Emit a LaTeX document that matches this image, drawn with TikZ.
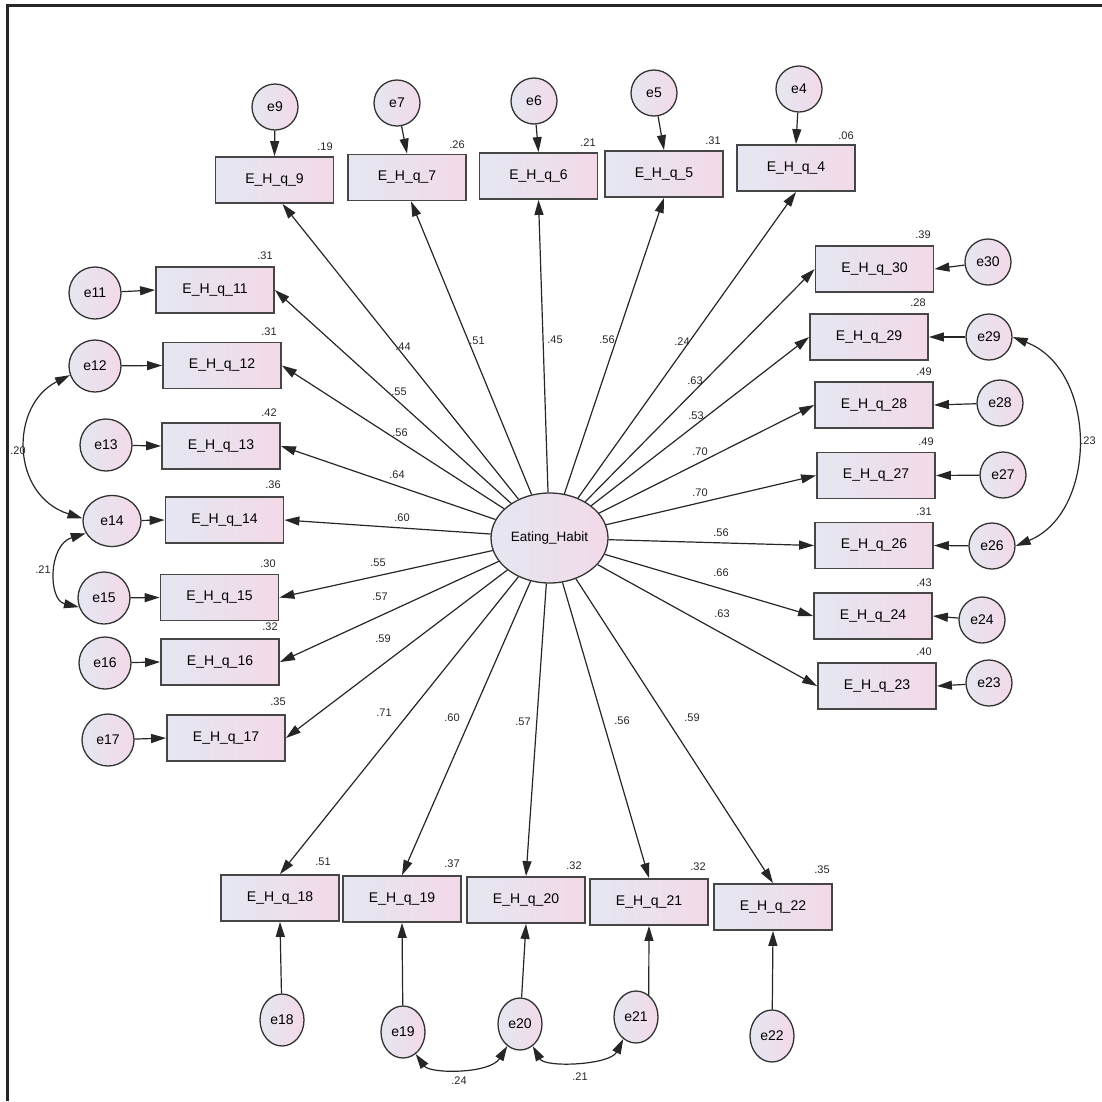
\documentclass[tikz,border=0pt]{standalone}
\usepackage{fontspec}
\setmainfont{Liberation Sans}
\usetikzlibrary{arrows.meta,shapes.geometric}
\definecolor{fillL}{RGB}{228,231,241}
\definecolor{fillR}{RGB}{243,217,232}
\definecolor{edgec}{RGB}{70,70,70}
\begin{document}
\begin{tikzpicture}[x=1pt,y=-1pt,
  obs/.style={rectangle, draw=edgec, line width=1.8pt, left color=fillL, right color=fillR, minimum width=118pt, minimum height=46pt, inner sep=0pt, font=\fontsize{14}{16}\selectfont},
  err/.style={circle, draw=black!80, line width=1.3pt, left color=fillL, right color=fillR, minimum size=46pt, inner sep=0pt, font=\fontsize{14}{16}\selectfont},
  errL/.style={err, minimum size=52pt},
  errB/.style={err, ellipse, minimum width=44pt, minimum height=52pt},
  lat/.style={ellipse, draw=black!80, line width=1.3pt, left color=fillL, right color=fillR, minimum width=117pt, minimum height=90pt, inner sep=0pt, font=\fontsize{13.5}{16}\selectfont},
  rsq/.style={font=\fontsize{11}{13}\selectfont, inner sep=0pt, text=black!85},
  coef/.style={font=\fontsize{11}{13}\selectfont, inner sep=0pt, text=black!85},
  reg/.style={-{Triangle[length=15pt,width=9pt]}, line width=1.2pt, draw=black!85},
  cov/.style={{Triangle[length=15pt,width=9pt]}-{Triangle[length=15pt,width=9pt]}, line width=1.2pt, draw=black!85},
]
\useasboundingbox (0,0) rectangle (1102,1101);
\draw[line width=3pt, black!85] (7,1101) -- (7,5) -- (1102,5);

% latent
\node[lat] (EH) at (549.5,538) {Eating\_Habit};

% top boxes
\node[obs] (b9) at (274.5,180) {E\_H\_q\_9};
\node[obs] (b7) at (407,177.5) {E\_H\_q\_7};
\node[obs] (b6) at (538.5,176) {E\_H\_q\_6};
\node[obs] (b5) at (664,174) {E\_H\_q\_5};
\node[obs] (b4) at (796,168) {E\_H\_q\_4};
% left boxes
\node[obs] (b11) at (215,290) {E\_H\_q\_11};
\node[obs] (b12) at (222,365.5) {E\_H\_q\_12};
\node[obs] (b13) at (221,446) {E\_H\_q\_13};
\node[obs] (b14) at (224.5,520) {E\_H\_q\_14};
\node[obs] (b15) at (219.5,597.5) {E\_H\_q\_15};
\node[obs] (b16) at (220,662) {E\_H\_q\_16};
\node[obs] (b17) at (226,738) {E\_H\_q\_17};
% right boxes
\node[obs] (b30) at (874.5,269) {E\_H\_q\_30};
\node[obs] (b29) at (869,337) {E\_H\_q\_29};
\node[obs] (b28) at (874,405) {E\_H\_q\_28};
\node[obs] (b27) at (876,475.5) {E\_H\_q\_27};
\node[obs] (b26) at (874,545.5) {E\_H\_q\_26};
\node[obs] (b24) at (873,616) {E\_H\_q\_24};
\node[obs] (b23) at (877,686) {E\_H\_q\_23};
% bottom boxes
\node[obs] (b18) at (280,898) {E\_H\_q\_18};
\node[obs] (b19) at (402,899) {E\_H\_q\_19};
\node[obs] (b20) at (526,900) {E\_H\_q\_20};
\node[obs] (b21) at (649,902) {E\_H\_q\_21};
\node[obs] (b22) at (773,907) {E\_H\_q\_22};

% errors
\node[err] (e9) at (275,107) {e9};
\node[err] (e7) at (397,103) {e7};
\node[err] (e6) at (534,101) {e6};
\node[err] (e5) at (654,93) {e5};
\node[err] (e4) at (799,89) {e4};
\node[errL] (e11) at (95,293) {e11};
\node[errL] (e12) at (95,366) {e12};
\node[errL] (e13) at (106,445) {e13};
\node[errL, ellipse, minimum width=58pt, minimum height=51pt] (e14) at (112,521) {e14};
\node[errL] (e15) at (104,598) {e15};
\node[errL] (e16) at (105,663) {e16};
\node[errL] (e17) at (108,740) {e17};
\node[err] (e30) at (988,262) {e30};
\node[err] (e29) at (989,337) {e29};
\node[err] (e28) at (1000,403) {e28};
\node[err] (e27) at (1003,475) {e27};
\node[err] (e26) at (992,546) {e26};
\node[err] (e24) at (982,620) {e24};
\node[err] (e23) at (989,683) {e23};
\node[errB] (e18) at (282,1020) {e18};
\node[errB] (e19) at (403,1032) {e19};
\node[errB] (e20) at (520,1024) {e20};
\node[errB] (e21) at (636,1017) {e21};
\node[errB] (e22) at (772,1036) {e22};

% R-squared labels
\node[rsq] (r9) at (325,147) {.19};
\node[rsq] (r7) at (457,145) {.26};
\node[rsq] (r6) at (588,143) {.21};
\node[rsq] (r5) at (713,141) {.31};
\node[rsq] (r4) at (846,136) {.06};
\node[rsq] (r11) at (265,256) {.31};
\node[rsq] (r12) at (269,332) {.31};
\node[rsq] (r13) at (269,413) {.42};
\node[rsq] (r14) at (273,485) {.36};
\node[rsq] (r15) at (268,564) {.30};
\node[rsq] (r16) at (270,627) {.32};
\node[rsq] (r17) at (278,702) {.35};
\node[rsq] (r30) at (923,235) {.39};
\node[rsq] (r29) at (918,303) {.28};
\node[rsq] (r28) at (924,372) {.49};
\node[rsq] (r27) at (926,442) {.49};
\node[rsq] (r26) at (924,512) {.31};
\node[rsq] (r24) at (924,583) {.43};
\node[rsq] (r23) at (924,652) {.40};
\node[rsq] (r18) at (323,862) {.51};
\node[rsq] (r19) at (452,864) {.37};
\node[rsq] (r20) at (574,866) {.32};
\node[rsq] (r21) at (698,867) {.32};
\node[rsq] (r22) at (822,870) {.35};

% regression paths from latent
\draw[reg] (EH) -- ([xshift=8pt]b9.south);
\draw[reg] (EH) -- ([xshift=4pt]b7.south);
\draw[reg] (EH) -- (b6.south);
\draw[reg] (EH) -- (b5.south);
\draw[reg] (EH) -- (b4.south);
\foreach \b in {11,12,13,14,15,16,17} {\draw[reg] (EH) -- (b\b.east);}
\foreach \b in {30,29,28,27,26,24,23} {\draw[reg] (EH) -- (b\b.west);}
\foreach \b in {18,19,20,21,22} {\draw[reg] (EH) -- (b\b.north);}

% coefficient labels
\node[coef] (c9) at (403,347) {.44};
\node[coef] (c7) at (477,341) {.51};
\node[coef] (c6) at (555,340) {.45};
\node[coef] (c5) at (607,340) {.56};
\node[coef] (c4) at (682,342) {.24};
\node[coef] (c11) at (399,392) {.55};
\node[coef] (c12) at (400,433) {.56};
\node[coef] (c13) at (397,475) {.64};
\node[coef] (c14) at (402,518) {.60};
\node[coef] (c15) at (378,563) {.55};
\node[coef] (c16) at (380,597) {.57};
\node[coef] (c17) at (383,639) {.59};
\node[coef] (c18) at (384,713) {.71};
\node[coef] (c19) at (452,718) {.60};
\node[coef] (c20) at (523,722) {.57};
\node[coef] (c21) at (622,721) {.56};
\node[coef] (c22) at (692,718) {.59};
\node[coef] (c30) at (695,381) {.63};
\node[coef] (c29) at (696,416) {.53};
\node[coef] (c28) at (700,452) {.70};
\node[coef] (c27) at (700,493) {.70};
\node[coef] (c26) at (721,533) {.56};
\node[coef] (c24) at (721,573) {.66};
\node[coef] (c23) at (722,614) {.63};

% error paths
\foreach \b in {9,7,6,5,4} {\draw[reg] (e\b) -- (b\b.north);}
\foreach \b in {11,12,13,14,15,16,17} {\draw[reg] (e\b) -- (b\b.west);}
\foreach \b in {30,29,28,27,26,24,23} {\draw[reg] (e\b) -- (b\b.east);}
\draw[reg] (e18) -- (b18.south);
\draw[reg] (e19) -- (b19.south);
\draw[reg] (e20) -- (b20.south);
\draw[reg] (e21.60) -- (b21.south);
\draw[reg] (e22) -- (b22.south);

% covariances
\draw[cov] (e12.200) .. controls (10,405) and (10,495) .. (e14.175);
\node[coef] (k1) at (18,451) {.20};
\draw[cov] (e14.205) .. controls (48,545) and (48,600) .. (e15.200);
\node[coef] (k2) at (43,570) {.21};
\draw[cov] (e29.east) .. controls (1098,370) and (1098,512) .. (e26.east);
\node[coef] (k3) at (1088,441) {.23};
\draw[cov] (e19.-60) .. controls (430,1074) and (490,1074) .. (e20.-120);
\node[coef] (k4) at (459,1081) {.24};
\draw[cov] (e20.-60) .. controls (545,1068) and (610,1065) .. (e21.-120);
\node[coef] (k5) at (580,1077) {.21};
\end{tikzpicture}
\end{document}
